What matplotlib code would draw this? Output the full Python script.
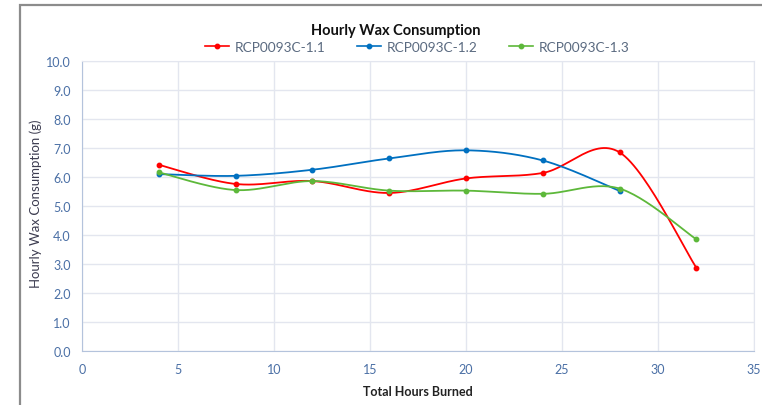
import numpy as np
import matplotlib
matplotlib.use("Agg")
import matplotlib.pyplot as plt
from matplotlib.patches import Rectangle
from matplotlib.lines import Line2D

hours = [4, 8, 12, 16, 20, 24, 28, 32]
s11 = [6.42, 5.76, 5.86, 5.45, 5.95, 6.14, 6.85, 2.87]
hours12 = [4, 8, 12, 16, 20, 24, 28]
s12 = [6.10, 6.04, 6.25, 6.64, 6.92, 6.57, 5.52]
s13 = [6.16, 5.55, 5.86, 5.53, 5.53, 5.42, 5.60, 3.85]

names = ["RCP0093C-1.1", "RCP0093C-1.2", "RCP0093C-1.3"]
colors = ["#ff0000", "#0070c0", "#5db83a"]
xticks = [0, 5, 10, 15, 20, 25, 30, 35]
yticks = [0, 1, 2, 3, 4, 5, 6, 7, 8, 9, 10]

plt.rcParams["font.family"] = ["Lato", "DejaVu Sans"]


def smooth(x, y, n=30):
    # Excel-style smoothed line: cubic Bezier segments with Catmull-Rom tangents
    x = np.asarray(x, float)
    y = np.asarray(y, float)
    P = np.column_stack([x, y])
    out = []
    for i in range(len(P) - 1):
        p0 = P[i - 1] if i > 0 else P[i]
        p1 = P[i]
        p2 = P[i + 1]
        p3 = P[i + 2] if i + 2 < len(P) else P[i + 1]
        c1 = p1 + (p2 - p0) / 6.0
        c2 = p2 - (p3 - p1) / 6.0
        t = np.linspace(0, 1, n)[:, None]
        seg = ((1 - t) ** 3) * p1 + 3 * ((1 - t) ** 2) * t * c1 + 3 * (1 - t) * t ** 2 * c2 + t ** 3 * p2
        out.append(seg if i == 0 else seg[1:])
    s = np.vstack(out)
    return s[:, 0], s[:, 1]


fig = plt.figure(figsize=(7.62, 4.06), dpi=100)
fig.patch.set_facecolor("white")
# outer chart border
fig.add_artist(Rectangle((20 / 762, -0.05), 1.2, 1 - 6 / 406 + 0.05, transform=fig.transFigure,
                         fill=False, edgecolor="#8c8c8c", linewidth=1.6))

ax = fig.add_axes([82 / 762, 1 - 352 / 406, (754 - 82) / 762, (352 - 62) / 406])
ax.set_xlim(0, 35)
ax.set_ylim(0, 10)
ax.set_xticks(xticks)
ax.set_yticks(yticks)
ax.set_yticklabels([f"{v:.1f}" for v in yticks])
ax.grid(True, color="#e3e6ef", linewidth=1.0)
ax.set_axisbelow(True)
for side in ["left", "bottom"]:
    ax.spines[side].set_color("#b4c3dc")
for side in ["top", "right"]:
    ax.spines[side].set_color("#e3e6ef")
ax.tick_params(length=0, labelcolor="#4a6fa5", labelsize=9, pad=9)
ax.tick_params(axis="y", pad=8)

series = [(hours, s11), (hours12, s12), (hours, s13)]
for (xs, ys), c in zip(series, colors):
    sx, sy = smooth(xs, ys)
    ax.plot(sx, sy, color=c, linewidth=1.3)
    ax.plot(xs, ys, linestyle="none", marker="o", markersize=3.2, color=c)

ax.set_xlabel("Total Hours Burned", fontsize=9, fontweight="bold", color="#222222", labelpad=7)
ax.set_ylabel("Hourly Wax Consumption (g)", fontsize=9.5, color="#3c3c50")
ax.yaxis.set_label_coords((42 - 82) / 672, 0.51)

fig.text(396 / 762, 1 - 31 / 406, "Hourly Wax Consumption", ha="center", va="center",
         fontsize=10.5, fontweight="bold", color="#111111")

handles = [Line2D([0], [0], color=c, marker="o", markersize=3.2, linewidth=1.2) for c in colors]
leg = fig.legend(handles, names, loc="center", bbox_to_anchor=(417 / 762, 1 - 48 / 406), ncol=3,
                 frameon=False, handlelength=1.8, columnspacing=2.3, handletextpad=0.4,
                 prop={"size": 9.8})
for t in leg.get_texts():
    t.set_color("#5a6a80")

fig.savefig("out.png", dpi=100)
